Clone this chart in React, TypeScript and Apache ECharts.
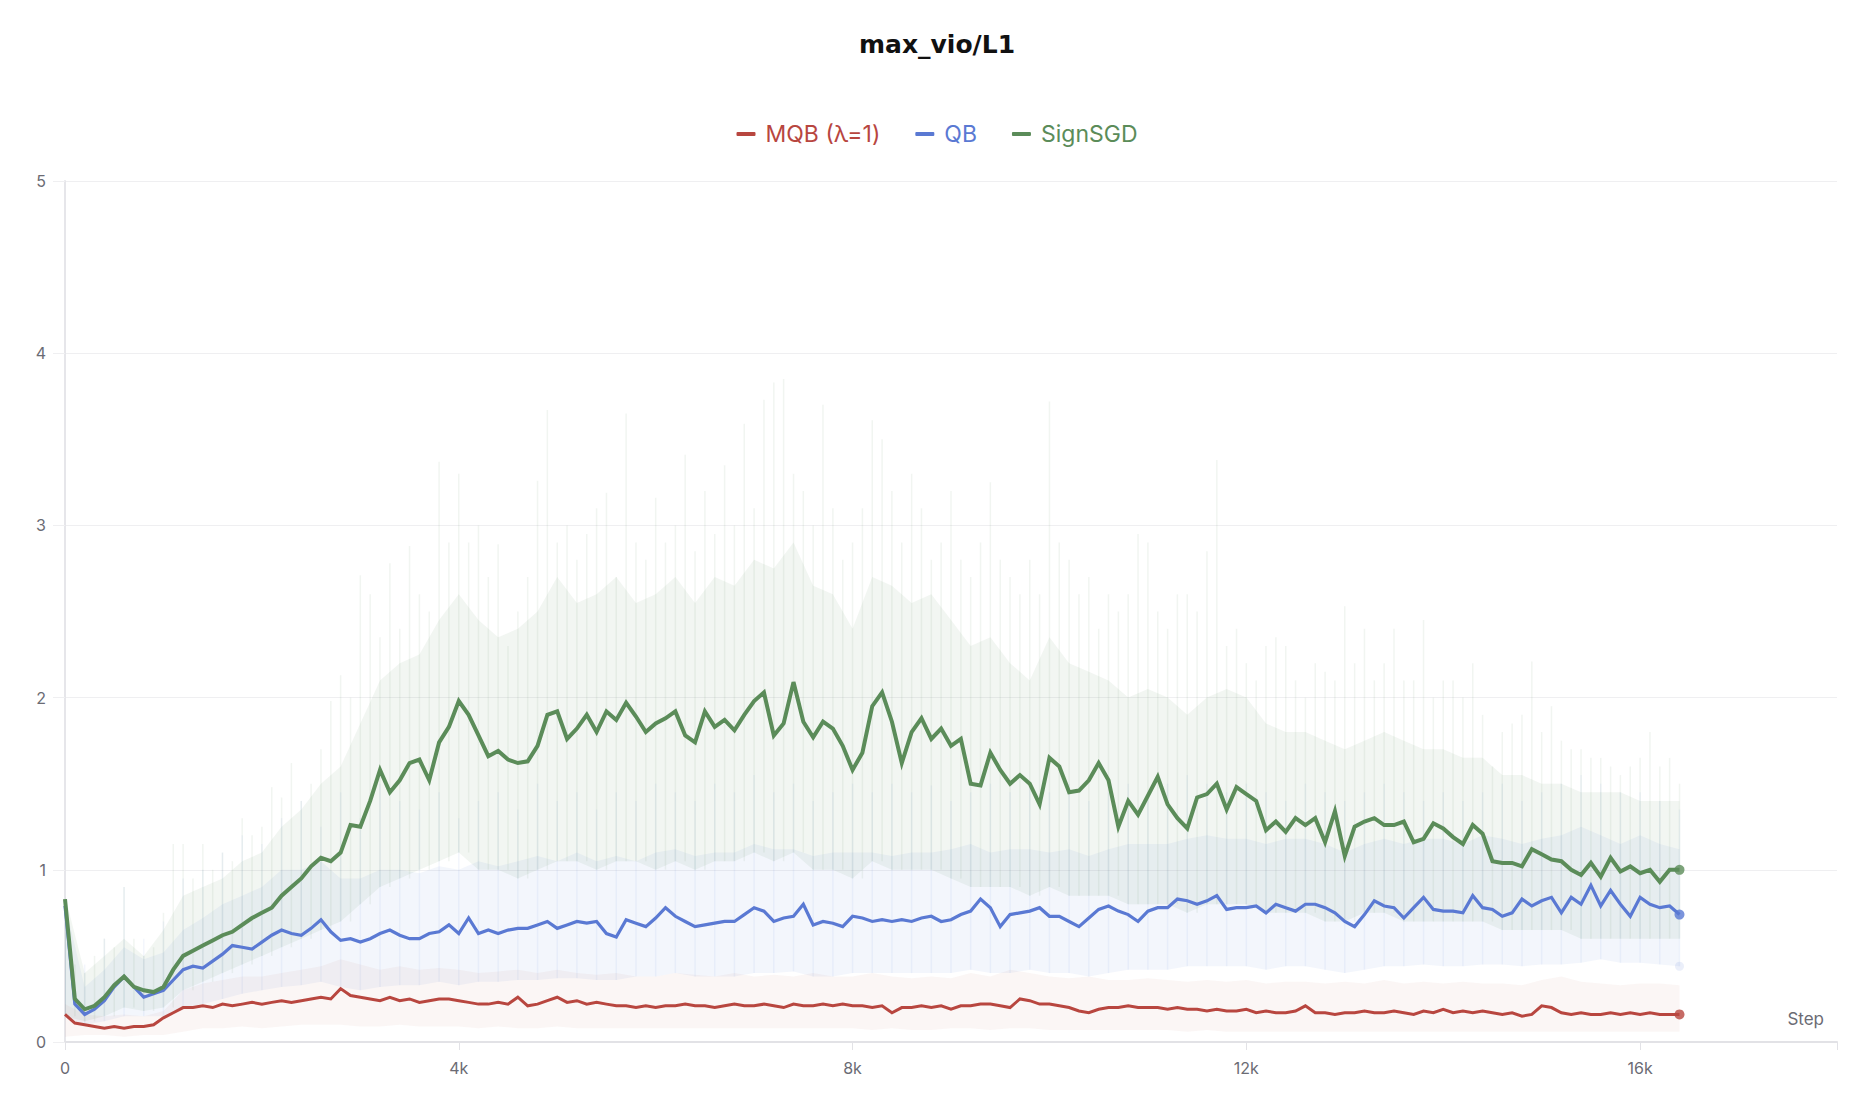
import React, { useEffect, useRef } from 'react';
import * as echarts from 'echarts';

// logging interval of the smoothed curves and of the raw envelopes
const STEP_INTERVAL = 100;
const BAND_INTERVAL = 200;
const SPIKE_INTERVAL_QB = 200;

const seriesNames = ['MQB (λ=1)', 'QB', 'SignSGD'];
const xAxisMax = 18000;
const xAxisInterval = 4000;
const yAxisMax = 5;

// smoothed curves (every 100 steps, 0 .. 16400)
const signSGD = [
  0.83, 0.25, 0.19, 0.21, 0.26, 0.33, 0.38, 0.32, 0.30, 0.29,
  0.32, 0.42, 0.50, 0.53, 0.56, 0.59, 0.62, 0.64, 0.68, 0.72,
  0.75, 0.78, 0.85, 0.90, 0.95, 1.02, 1.07, 1.05, 1.10, 1.26,
  1.25, 1.40, 1.58, 1.45, 1.52, 1.62, 1.64, 1.52, 1.74, 1.83,
  1.98, 1.90, 1.78, 1.66, 1.69, 1.64, 1.62, 1.63, 1.72, 1.90,
  1.92, 1.76, 1.82, 1.90, 1.80, 1.92, 1.87, 1.97, 1.89, 1.80,
  1.85, 1.88, 1.92, 1.78, 1.74, 1.92, 1.83, 1.87, 1.81, 1.90,
  1.98, 2.03, 1.78, 1.85, 2.09, 1.86, 1.77, 1.86, 1.82, 1.72,
  1.58, 1.68, 1.95, 2.03, 1.86, 1.62, 1.80, 1.88, 1.76, 1.82,
  1.72, 1.76, 1.50, 1.49, 1.68, 1.58, 1.50, 1.55, 1.50, 1.38,
  1.65, 1.60, 1.45, 1.46, 1.52, 1.62, 1.52, 1.25, 1.40, 1.32,
  1.43, 1.54, 1.38, 1.30, 1.24, 1.42, 1.44, 1.50, 1.35, 1.48,
  1.44, 1.40, 1.23, 1.28, 1.22, 1.30, 1.26, 1.30, 1.16, 1.34,
  1.08, 1.25, 1.28, 1.30, 1.26, 1.26, 1.28, 1.16, 1.18, 1.27,
  1.24, 1.19, 1.15, 1.26, 1.21, 1.05, 1.04, 1.04, 1.02, 1.12,
  1.09, 1.06, 1.05, 1.00, 0.97, 1.04, 0.96, 1.07, 0.99, 1.02,
  0.98, 1.00, 0.93, 1.00, 1.00,
];

const qb = [
  0.79, 0.22, 0.16, 0.19, 0.24, 0.32, 0.38, 0.32, 0.26, 0.28,
  0.30, 0.36, 0.42, 0.44, 0.43, 0.47, 0.51, 0.56, 0.55, 0.54,
  0.58, 0.62, 0.65, 0.63, 0.62, 0.66, 0.71, 0.64, 0.59, 0.60,
  0.58, 0.60, 0.63, 0.65, 0.62, 0.60, 0.60, 0.63, 0.64, 0.68,
  0.63, 0.72, 0.63, 0.65, 0.63, 0.65, 0.66, 0.66, 0.68, 0.70,
  0.66, 0.68, 0.70, 0.69, 0.70, 0.63, 0.61, 0.71, 0.69, 0.67,
  0.72, 0.78, 0.73, 0.70, 0.67, 0.68, 0.69, 0.70, 0.70, 0.74,
  0.78, 0.76, 0.70, 0.72, 0.73, 0.80, 0.68, 0.70, 0.69, 0.67,
  0.73, 0.72, 0.70, 0.71, 0.70, 0.71, 0.70, 0.72, 0.73, 0.70,
  0.71, 0.74, 0.76, 0.83, 0.78, 0.67, 0.74, 0.75, 0.76, 0.78,
  0.73, 0.73, 0.70, 0.67, 0.72, 0.77, 0.79, 0.76, 0.74, 0.70,
  0.76, 0.78, 0.78, 0.83, 0.82, 0.80, 0.82, 0.85, 0.77, 0.78,
  0.78, 0.79, 0.75, 0.80, 0.78, 0.76, 0.80, 0.80, 0.78, 0.75,
  0.70, 0.67, 0.74, 0.82, 0.79, 0.78, 0.72, 0.78, 0.84, 0.77,
  0.76, 0.76, 0.75, 0.85, 0.78, 0.77, 0.73, 0.75, 0.83, 0.79,
  0.82, 0.84, 0.75, 0.84, 0.80, 0.91, 0.79, 0.88, 0.80, 0.73,
  0.84, 0.80, 0.78, 0.79, 0.74,
];

const mqb = [
  0.16, 0.11, 0.10, 0.09, 0.08, 0.09, 0.08, 0.09, 0.09, 0.10,
  0.14, 0.17, 0.20, 0.20, 0.21, 0.20, 0.22, 0.21, 0.22, 0.23,
  0.22, 0.23, 0.24, 0.23, 0.24, 0.25, 0.26, 0.25, 0.31, 0.27,
  0.26, 0.25, 0.24, 0.26, 0.24, 0.25, 0.23, 0.24, 0.25, 0.25,
  0.24, 0.23, 0.22, 0.22, 0.23, 0.22, 0.26, 0.21, 0.22, 0.24,
  0.26, 0.23, 0.24, 0.22, 0.23, 0.22, 0.21, 0.21, 0.20, 0.21,
  0.20, 0.21, 0.21, 0.22, 0.21, 0.21, 0.20, 0.21, 0.22, 0.21,
  0.21, 0.22, 0.21, 0.20, 0.22, 0.21, 0.21, 0.22, 0.21, 0.22,
  0.21, 0.21, 0.20, 0.21, 0.17, 0.20, 0.20, 0.21, 0.20, 0.21,
  0.19, 0.21, 0.21, 0.22, 0.22, 0.21, 0.20, 0.25, 0.24, 0.22,
  0.22, 0.21, 0.20, 0.18, 0.17, 0.19, 0.20, 0.20, 0.21, 0.20,
  0.20, 0.20, 0.19, 0.20, 0.19, 0.19, 0.18, 0.19, 0.18, 0.18,
  0.19, 0.17, 0.18, 0.17, 0.17, 0.18, 0.21, 0.17, 0.17, 0.16,
  0.17, 0.17, 0.18, 0.17, 0.17, 0.18, 0.17, 0.16, 0.18, 0.17,
  0.19, 0.17, 0.18, 0.17, 0.18, 0.17, 0.16, 0.17, 0.15, 0.16,
  0.21, 0.20, 0.17, 0.16, 0.17, 0.16, 0.16, 0.17, 0.16, 0.17,
  0.16, 0.17, 0.16, 0.16, 0.16,
];

// raw-value envelopes (every 200 steps, 0 .. 16400)
const signRawLo = [
  0.15, 0.12, 0.15, 0.20, 0.18, 0.20, 0.30, 0.35, 0.40, 0.45,
  0.50, 0.55, 0.60, 0.65, 0.70, 0.80, 0.90, 0.95, 1.00, 1.05,
  1.10, 1.00, 1.00, 0.95, 1.00, 1.05, 1.05, 1.00, 1.05, 1.05,
  1.00, 1.05, 1.00, 1.05, 1.05, 1.10, 1.05, 1.10, 1.00, 1.00,
  0.95, 1.05, 1.00, 1.00, 1.00, 0.95, 0.90, 0.90, 0.90, 0.85,
  0.90, 0.85, 0.85, 0.85, 0.80, 0.80, 0.80, 0.75, 0.80, 0.80,
  0.80, 0.75, 0.75, 0.75, 0.70, 0.70, 0.75, 0.75, 0.70, 0.70,
  0.70, 0.70, 0.70, 0.65, 0.65, 0.65, 0.65, 0.60, 0.60, 0.60,
  0.60, 0.60, 0.60,
];
const signRawHi = [
  0.85, 0.40, 0.50, 0.60, 0.50, 0.65, 0.85, 0.90, 0.95, 1.05,
  1.10, 1.25, 1.35, 1.50, 1.60, 1.85, 2.10, 2.20, 2.25, 2.45,
  2.60, 2.45, 2.35, 2.40, 2.50, 2.70, 2.55, 2.60, 2.70, 2.55,
  2.60, 2.70, 2.55, 2.70, 2.65, 2.80, 2.75, 2.90, 2.65, 2.60,
  2.40, 2.70, 2.65, 2.55, 2.60, 2.45, 2.30, 2.35, 2.20, 2.10,
  2.35, 2.20, 2.15, 2.10, 2.00, 2.05, 2.00, 1.90, 2.00, 2.05,
  2.00, 1.85, 1.80, 1.80, 1.75, 1.70, 1.75, 1.80, 1.75, 1.70,
  1.70, 1.65, 1.65, 1.55, 1.55, 1.50, 1.50, 1.45, 1.45, 1.45,
  1.40, 1.40, 1.40,
];
const qbRawLo = [
  0.15, 0.10, 0.12, 0.15, 0.15, 0.15, 0.20, 0.22, 0.25, 0.28,
  0.30, 0.32, 0.33, 0.35, 0.32, 0.30, 0.32, 0.33, 0.33, 0.35,
  0.33, 0.35, 0.35, 0.36, 0.36, 0.37, 0.37, 0.36, 0.36, 0.38,
  0.38, 0.40, 0.38, 0.38, 0.38, 0.40, 0.40, 0.41, 0.38, 0.38,
  0.40, 0.40, 0.40, 0.40, 0.40, 0.40, 0.42, 0.40, 0.40, 0.42,
  0.40, 0.40, 0.38, 0.40, 0.42, 0.42, 0.42, 0.44, 0.44, 0.44,
  0.44, 0.42, 0.44, 0.44, 0.42, 0.40, 0.42, 0.44, 0.44, 0.45,
  0.44, 0.44, 0.45, 0.45, 0.44, 0.45, 0.45, 0.46, 0.48, 0.46,
  0.46, 0.45, 0.44,
];
const qbRawHi = [
  0.80, 0.32, 0.42, 0.55, 0.48, 0.52, 0.65, 0.72, 0.80, 0.85,
  0.90, 1.00, 1.00, 1.05, 0.95, 0.95, 1.00, 1.00, 0.98, 1.02,
  1.00, 1.05, 1.02, 1.05, 1.08, 1.05, 1.10, 1.05, 1.08, 1.05,
  1.10, 1.12, 1.08, 1.10, 1.10, 1.15, 1.12, 1.12, 1.08, 1.10,
  1.10, 1.10, 1.08, 1.10, 1.10, 1.12, 1.15, 1.10, 1.12, 1.12,
  1.10, 1.12, 1.08, 1.12, 1.15, 1.15, 1.15, 1.18, 1.20, 1.18,
  1.18, 1.15, 1.18, 1.18, 1.15, 1.10, 1.15, 1.18, 1.15, 1.18,
  1.18, 1.15, 1.20, 1.18, 1.15, 1.18, 1.20, 1.25, 1.20, 1.15,
  1.20, 1.15, 1.12,
];
const mqbRawLo = [
  0.03, 0.04, 0.04, 0.03, 0.04, 0.04, 0.06, 0.08, 0.08, 0.09,
  0.08, 0.09, 0.10, 0.10, 0.10, 0.09, 0.09, 0.10, 0.09, 0.09,
  0.09, 0.08, 0.09, 0.08, 0.08, 0.09, 0.08, 0.08, 0.08, 0.08,
  0.08, 0.08, 0.08, 0.08, 0.08, 0.08, 0.08, 0.08, 0.08, 0.08,
  0.08, 0.07, 0.08, 0.07, 0.07, 0.08, 0.08, 0.07, 0.08, 0.08,
  0.07, 0.07, 0.07, 0.07, 0.07, 0.07, 0.07, 0.06, 0.07, 0.06,
  0.06, 0.06, 0.06, 0.06, 0.06, 0.06, 0.06, 0.06, 0.06, 0.06,
  0.06, 0.06, 0.06, 0.06, 0.06, 0.06, 0.06, 0.06, 0.06, 0.06,
  0.06, 0.06, 0.06,
];
const mqbRawHi = [
  0.22, 0.16, 0.15, 0.16, 0.15, 0.18, 0.30, 0.34, 0.36, 0.38,
  0.38, 0.40, 0.42, 0.44, 0.48, 0.45, 0.42, 0.44, 0.42, 0.43,
  0.42, 0.40, 0.41, 0.42, 0.40, 0.42, 0.40, 0.39, 0.40, 0.38,
  0.38, 0.40, 0.39, 0.38, 0.40, 0.38, 0.39, 0.38, 0.40, 0.38,
  0.38, 0.40, 0.38, 0.37, 0.38, 0.37, 0.40, 0.38, 0.42, 0.40,
  0.38, 0.37, 0.38, 0.36, 0.36, 0.37, 0.36, 0.35, 0.36, 0.35,
  0.36, 0.34, 0.35, 0.35, 0.34, 0.35, 0.34, 0.36, 0.34, 0.35,
  0.34, 0.35, 0.34, 0.34, 0.33, 0.36, 0.38, 0.35, 0.34, 0.33,
  0.34, 0.34, 0.33,
];

// raw spikes (SignSGD every 100 steps, QB every 200 steps)
const signRawSpikes = [
  0.80, 0.45, 0.40, 0.50, 0.60, 0.55, 0.90, 0.60, 0.50, 0.55,
  0.75, 1.15, 1.15, 0.95, 1.15, 1.00, 1.10, 1.05, 1.30, 1.20,
  1.25, 1.48, 1.42, 1.62, 1.40, 1.50, 1.70, 1.98, 2.13, 2.00,
  2.71, 2.60, 2.35, 2.78, 2.40, 2.88, 2.60, 2.50, 3.37, 2.90,
  3.30, 2.90, 3.00, 2.70, 2.89, 2.30, 2.50, 2.70, 3.26, 3.67,
  2.90, 3.00, 2.80, 2.95, 3.10, 3.19, 2.70, 3.65, 2.90, 2.80,
  3.16, 2.90, 3.00, 3.41, 2.85, 3.20, 2.95, 3.35, 3.00, 3.59,
  3.10, 3.73, 3.83, 3.85, 3.30, 3.20, 3.00, 3.70, 3.10, 2.80,
  2.90, 3.10, 3.61, 3.50, 3.20, 2.90, 3.30, 3.10, 2.80, 2.90,
  3.20, 2.80, 2.70, 2.90, 3.25, 2.80, 2.70, 2.60, 2.80, 2.60,
  3.72, 2.90, 2.80, 2.60, 2.70, 2.40, 2.60, 2.50, 2.60, 2.95,
  2.90, 2.50, 2.40, 2.60, 2.60, 2.50, 2.85, 3.38, 2.30, 2.40,
  2.20, 2.10, 2.30, 2.35, 2.30, 2.10, 2.00, 2.20, 2.15, 2.10,
  2.53, 2.20, 2.40, 2.10, 2.20, 2.40, 2.10, 2.10, 2.45, 2.00,
  2.10, 2.10, 2.00, 2.20, 1.90, 1.60, 1.80, 1.85, 1.90, 2.21,
  1.80, 1.95, 1.75, 1.70, 1.70, 1.65, 1.65, 1.60, 1.55, 1.60,
  1.65, 1.80, 1.60, 1.65, 1.50,
];
const qbRawSpikes = [
  0.80, 0.45, 0.60, 0.90, 0.60, 0.70, 0.95, 1.00, 1.10, 1.20,
  1.15, 1.30, 1.40, 1.25, 1.45, 1.30, 1.50, 1.40, 1.35, 1.45,
  1.30, 1.40, 1.45, 1.35, 1.50, 1.40, 1.45, 1.35, 1.45, 1.40,
  1.50, 1.45, 1.40, 1.50, 1.45, 1.55, 1.45, 1.50, 1.40, 1.45,
  1.50, 1.45, 1.50, 1.45, 1.49, 1.40, 1.45, 1.50, 1.45, 1.50,
  1.45, 1.50, 1.40, 1.45, 1.50, 1.45, 1.50, 1.55, 1.50, 1.45,
  1.50, 1.45, 1.40, 1.50, 1.45, 1.40, 1.45, 1.50, 1.45, 1.40,
  1.45, 1.40, 1.45, 1.50, 1.40, 1.45, 1.50, 1.55, 1.50, 1.45,
  1.45, 1.40, 1.35,
];
const qbRawLast = 0.44;

const COLORS = { mqb: '#b8463f', qb: '#5a79d3', sign: '#5b8c59' };
const FONT = 'Inter, "Noto Sans", "DejaVu Sans", sans-serif';
const TITLE_FONT = '"DejaVu Sans", Inter, sans-serif';

function pairs(values: number[], interval: number) {
  return values.map((v, i) => [i * interval, v]);
}

// light envelope of raw values: polygon through the library's coordinate system
function bandSeries(lo: number[], hi: number[], color: string, z: number) {
  return {
    type: 'custom', silent: true, z, clip: true,
    data: [[0, 0]],
    encode: { x: 0, y: 1 },
    renderItem: (_params: any, api: any) => {
      const pts: number[][] = [];
      for (let i = 0; i < hi.length; i++) pts.push(api.coord([i * BAND_INTERVAL, hi[i]]));
      for (let i = lo.length - 1; i >= 0; i--) pts.push(api.coord([i * BAND_INTERVAL, lo[i]]));
      return { type: 'polygon', shape: { points: pts }, style: { fill: color } };
    },
  };
}

// vertical raw spikes from the lower envelope up to the spike value
function spikeSeries(spikes: number[], interval: number, lo: number[], color: string, z: number) {
  const data = spikes.map((v, i) => {
    const bi = Math.min(lo.length - 1, Math.floor((i * interval) / BAND_INTERVAL));
    return [i * interval, v, lo[bi]];
  });
  return {
    type: 'custom', silent: true, z, clip: true,
    data,
    encode: { x: 0, y: 1 },
    renderItem: (_params: any, api: any) => {
      const x = api.value(0);
      const p1 = api.coord([x, api.value(2)]);
      const p2 = api.coord([x, api.value(1)]);
      return {
        type: 'line',
        shape: { x1: p1[0], y1: p1[1], x2: p2[0], y2: p2[1] },
        style: { stroke: color, lineWidth: 1.5 },
      };
    },
  };
}

function mainLine(name: string, values: number[], color: string, width: number) {
  return {
    type: 'line', name, data: pairs(values, STEP_INTERVAL), showSymbol: false, symbol: 'none',
    lineStyle: { color, width, join: 'miter' }, itemStyle: { color }, silent: true, z: 5,
  };
}

function endDot(values: number[], interval: number, color: string, size: number, z: number) {
  const last = values.length - 1;
  return {
    type: 'scatter', data: [[last * interval, values[last]]], symbolSize: size,
    itemStyle: { color }, silent: true, z,
  };
}

export default function App() {
  const ref = useRef<HTMLDivElement>(null);
  useEffect(() => {
    document.body.style.margin = '0';
    const chart = echarts.init(ref.current!, null, { renderer: 'svg' });
    const option = {
      animation: false,
      textStyle: { fontFamily: FONT },
      title: {
        text: 'max_vio/L1', left: 'center', top: 26, padding: 0,
        textStyle: { fontSize: 25, fontWeight: 'bold', color: '#111', fontFamily: TITLE_FONT, lineHeight: 36 },
      },
      legend: {
        top: 121, left: 'center', padding: 0, itemGap: 35, itemWidth: 19, itemHeight: 4,
        icon: 'roundRect',
        data: [
          { name: seriesNames[0], textStyle: { color: COLORS.mqb } },
          { name: seriesNames[1], textStyle: { color: COLORS.qb } },
          { name: seriesNames[2], textStyle: { color: COLORS.sign } },
        ],
        textStyle: { fontSize: 23, fontFamily: FONT, lineHeight: 26, padding: [0, 0, 0, 5] },
        selectedMode: false,
      },
      grid: { left: 65, right: 37, top: 181, bottom: 72, containLabel: false },
      xAxis: {
        type: 'value', min: 0, max: xAxisMax, interval: xAxisInterval,
        axisLine: { show: true, lineStyle: { color: '#e2e2e6', width: 2 } },
        axisTick: { show: true, length: 8, lineStyle: { color: '#e2e2e6' } },
        splitLine: { show: false },
        axisLabel: {
          fontSize: 16, color: '#6b6b74', margin: 18, fontFamily: FONT,
          formatter: (v: number) => (v === 0 ? '0' : v >= xAxisMax ? '' : v / 1000 + 'k'),
        },
      },
      yAxis: {
        type: 'value', min: 0, max: yAxisMax, interval: 1,
        axisLine: { show: true, lineStyle: { color: '#e6e6ea', width: 2 } },
        axisTick: { show: true, length: 12, lineStyle: { color: '#efeff1' } },
        splitLine: { show: true, lineStyle: { color: '#efeff1', width: 1 } },
        axisLabel: { fontSize: 16, color: '#6b6b74', margin: 19, fontFamily: FONT },
      },
      graphic: [
        {
          type: 'text', x: 1824, y: 1027,
          style: { text: 'Step', fill: '#6b6b74', fontSize: 17, fontFamily: FONT, textAlign: 'right', textVerticalAlign: 'bottom' },
          silent: true,
        },
      ],
      series: [
        bandSeries(signRawLo, signRawHi, 'rgba(91,140,89,0.08)', 1),
        bandSeries(qbRawLo, qbRawHi, 'rgba(90,121,211,0.07)', 1),
        bandSeries(mqbRawLo, mqbRawHi, 'rgba(184,70,63,0.05)', 1),
        spikeSeries(signRawSpikes, STEP_INTERVAL, signRawLo, 'rgba(91,140,89,0.085)', 2),
        spikeSeries(qbRawSpikes, SPIKE_INTERVAL_QB, qbRawLo, 'rgba(90,121,211,0.07)', 2),
        {
          type: 'scatter', data: [[(qbRawLo.length - 1) * BAND_INTERVAL, qbRawLast]], symbolSize: 9,
          itemStyle: { color: 'rgba(90,121,211,0.15)' }, silent: true, z: 3,
        },
        mainLine(seriesNames[0], mqb, COLORS.mqb, 3),
        mainLine(seriesNames[1], qb, COLORS.qb, 3.2),
        mainLine(seriesNames[2], signSGD, COLORS.sign, 4),
        endDot(mqb, STEP_INTERVAL, COLORS.mqb, 10, 6),
        endDot(qb, STEP_INTERVAL, COLORS.qb, 10, 6),
        endDot(signSGD, STEP_INTERVAL, COLORS.sign, 10, 6),
      ],
    };
    chart.setOption(option as any);
    return () => chart.dispose();
  }, []);
  return <div ref={ref} style={{ width: 1874, height: 1114 }} />;
}
